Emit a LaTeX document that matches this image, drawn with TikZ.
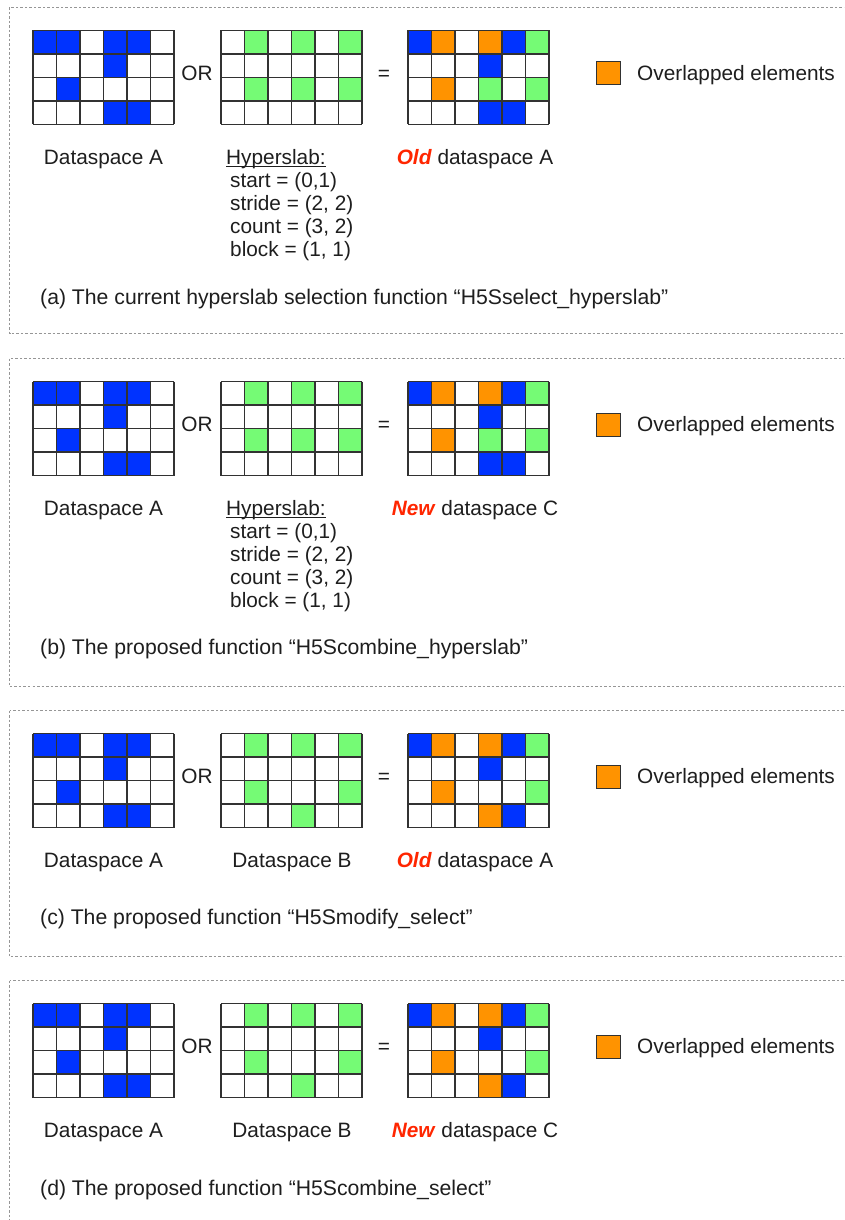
\documentclass[tikz,border=0pt]{standalone}
\usepackage{fontspec}
\setmainfont{Liberation Sans}
\definecolor{cblue}{RGB}{0,51,255}
\definecolor{cgreen}{RGB}{117,251,117}
\definecolor{corange}{RGB}{255,147,0}
\definecolor{cred}{RGB}{255,38,0}
\definecolor{cframe}{RGB}{150,150,150}
\definecolor{ctext}{RGB}{30,30,30}
\definecolor{cline}{RGB}{50,50,50}
\tikzset{
  gridline/.style={draw=cline, line width=1.1pt},
  frame/.style={draw=cframe, line width=0.8pt, dash pattern=on 2.5pt off 2pt},
  txt/.style={inner sep=0pt, text=ctext, font=\fontsize{20.8}{24}\selectfont},
  captxt/.style={inner sep=0pt, text=ctext, font=\fontsize{21.2}{24}\selectfont},
  legbox/.style={draw=cline, line width=1pt, fill=corange, minimum width=24pt, minimum height=23pt, inner sep=0pt},
}
\newcommand{\cellgrid}[3]{%
  \foreach \r/\c/\col in #3 {\fill[\col] ({#1+\c*23.5},{#2+\r*23.5}) rectangle ++(23.5,23.5);}
  \foreach \i in {0,...,6} {\draw[gridline] ({#1+\i*23.5},#2) -- ++(0,94);}
  \foreach \j in {0,...,4} {\draw[gridline] (#1,{#2+\j*23.5}) -- ++(141,0);}
}
\newcommand{\myul}[1]{\setbox0\hbox{#1}\rlap{\rule[-2.4pt]{\wd0}{0.9pt}}\box0}
\newcommand{\cellsA}{0/0/cblue,0/1/cblue,0/3/cblue,0/4/cblue,1/3/cblue,2/1/cblue,3/3/cblue,3/4/cblue}
\newcommand{\cellsH}{0/1/cgreen,0/3/cgreen,0/5/cgreen,2/1/cgreen,2/3/cgreen,2/5/cgreen}
\newcommand{\cellsB}{0/1/cgreen,0/3/cgreen,0/5/cgreen,2/1/cgreen,2/5/cgreen,3/3/cgreen}
\newcommand{\cellsCH}{0/0/cblue,0/1/corange,0/3/corange,0/4/cblue,0/5/cgreen,1/3/cblue,2/1/corange,2/3/cgreen,2/5/cgreen,3/3/cblue,3/4/cblue}
\newcommand{\cellsCB}{0/0/cblue,0/1/corange,0/3/corange,0/4/cblue,0/5/cgreen,1/3/cblue,2/1/corange,2/5/cgreen,3/3/corange,3/4/cblue}
\newcommand{\oldw}{\textcolor{cred}{\textbf{\textit{Old}}}}
\newcommand{\neww}{\textcolor{cred}{\textbf{\textit{New}}}}
\begin{document}
\begin{tikzpicture}[x=1pt,y=-1pt]
\useasboundingbox (0,0) rectangle (844,1220);
\clip (0,0) rectangle (844,1220);
\fill[white] (0,0) rectangle (844,1220);

% ---------- frames ----------
\draw[frame] (9.5,7.5) rectangle (860,333.5);
\draw[frame] (9.5,358.5) rectangle (860,686.5);
\draw[frame] (9.5,710.5) rectangle (860,956.5);
\draw[frame] (9.5,980.5) rectangle (860,1240);

% ---------- panel (a) ----------
\cellgrid{33}{30.5}{\cellsA}
\cellgrid{221}{30.5}{\cellsH}
\cellgrid{408}{30.5}{\cellsCH}
\node[txt, anchor=base] (a-or) at (197,80.5) {OR};
\node[txt, anchor=base] (a-eq) at (384,80.5) {=};
\node[legbox] (a-leg) at (608,73.5) {};
\node[txt, anchor=base west] (a-legt) at (637,80.5) {Overlapped elements};
\node[txt, anchor=base] (a-dsA) at (103.5,164.5) {Dataspace A};
\node[txt, anchor=base west] (a-hs) at (226,164.5) {\myul{Hyperslab:}};
\node[txt, anchor=base west] (a-hs1) at (230,187.5) {start = (0,1)};
\node[txt, anchor=base west] (a-hs2) at (230,210.5) {stride = (2, 2)};
\node[txt, anchor=base west] (a-hs3) at (230,233.5) {count = (3, 2)};
\node[txt, anchor=base west] (a-hs4) at (230,256.5) {block = (1, 1)};
\node[txt, anchor=base] (a-res) at (475,164.5) {\oldw{} dataspace A};
\node[captxt, anchor=base west] (a-cap) at (40,304.5) {(a) The current hyperslab selection function “H5Sselect\_hyperslab”};

% ---------- panel (b) ----------
\cellgrid{33}{381.5}{\cellsA}
\cellgrid{221}{381.5}{\cellsH}
\cellgrid{408}{381.5}{\cellsCH}
\node[txt, anchor=base] (b-or) at (197,431.5) {OR};
\node[txt, anchor=base] (b-eq) at (384,431.5) {=};
\node[legbox] (b-leg) at (608,424.5) {};
\node[txt, anchor=base west] (b-legt) at (637,431.5) {Overlapped elements};
\node[txt, anchor=base] (b-dsA) at (103.5,515.5) {Dataspace A};
\node[txt, anchor=base west] (b-hs) at (226,515.5) {\myul{Hyperslab:}};
\node[txt, anchor=base west] (b-hs1) at (230,538.5) {start = (0,1)};
\node[txt, anchor=base west] (b-hs2) at (230,561.5) {stride = (2, 2)};
\node[txt, anchor=base west] (b-hs3) at (230,584.5) {count = (3, 2)};
\node[txt, anchor=base west] (b-hs4) at (230,607.5) {block = (1, 1)};
\node[txt, anchor=base] (b-res) at (475,515.5) {\neww{} dataspace C};
\node[captxt, anchor=base west] (b-cap) at (40,654.5) {(b) The proposed function “H5Scombine\_hyperslab”};

% ---------- panel (c) ----------
\cellgrid{33}{733.5}{\cellsA}
\cellgrid{221}{733.5}{\cellsB}
\cellgrid{408}{733.5}{\cellsCB}
\node[txt, anchor=base] (c-or) at (197,783.5) {OR};
\node[txt, anchor=base] (c-eq) at (384,783.5) {=};
\node[legbox] (c-leg) at (608,776.5) {};
\node[txt, anchor=base west] (c-legt) at (637,783.5) {Overlapped elements};
\node[txt, anchor=base] (c-dsA) at (103.5,867.5) {Dataspace A};
\node[txt, anchor=base] (c-dsB) at (292,867.5) {Dataspace B};
\node[txt, anchor=base] (c-res) at (475,867.5) {\oldw{} dataspace A};
\node[captxt, anchor=base west] (c-cap) at (40,924.5) {(c) The proposed function “H5Smodify\_select”};

% ---------- panel (d) ----------
\cellgrid{33}{1003.5}{\cellsA}
\cellgrid{221}{1003.5}{\cellsB}
\cellgrid{408}{1003.5}{\cellsCB}
\node[txt, anchor=base] (d-or) at (197,1053.5) {OR};
\node[txt, anchor=base] (d-eq) at (384,1053.5) {=};
\node[legbox] (d-leg) at (608,1046.5) {};
\node[txt, anchor=base west] (d-legt) at (637,1053.5) {Overlapped elements};
\node[txt, anchor=base] (d-dsA) at (103.5,1137.5) {Dataspace A};
\node[txt, anchor=base] (d-dsB) at (292,1137.5) {Dataspace B};
\node[txt, anchor=base] (d-res) at (475,1137.5) {\neww{} dataspace C};
\node[captxt, anchor=base west] (d-cap) at (40,1195.5) {(d) The proposed function “H5Scombine\_select”};
\end{tikzpicture}
\end{document}
